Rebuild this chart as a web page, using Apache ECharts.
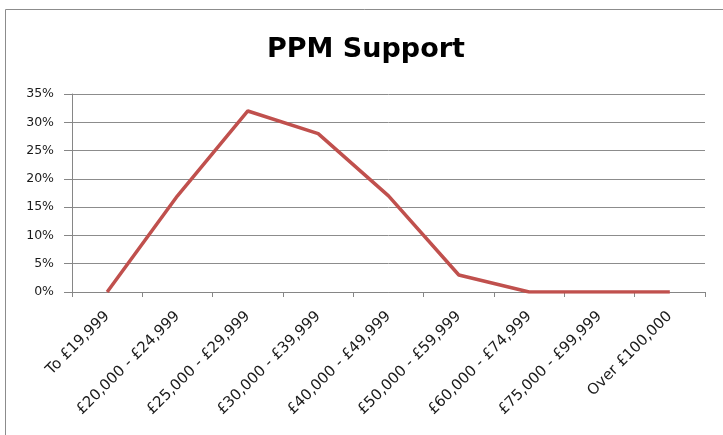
<!DOCTYPE html>
<html><head><meta charset="utf-8">
<script src="https://cdn.jsdelivr.net/npm/echarts@6/dist/echarts.min.js"></script>
<style>html,body{margin:0;padding:0;background:#fff}#c{width:723px;height:435px}</style>
</head><body><div id="c"></div>
<script>
var categories = ['To £19,999','£20,000 - £24,999','£25,000 - £29,999','£30,000 - £39,999','£40,000 - £49,999','£50,000 - £59,999','£60,000 - £74,999','£75,000 - £99,999','Over £100,000'];
var values = [0, 17, 32, 28, 17, 3, 0, 0, 0];
var yTicks = [0, 5, 10, 15, 20, 25, 30, 35];
var chart = echarts.init(document.getElementById('c'), null, {renderer:'canvas'});
chart.setOption({
  animation:false,
  backgroundColor:'#fff',
  title:{text:'PPM Support', left:262, top:31, padding:5, textStyle:{fontFamily:'DejaVu Sans', fontWeight:'bold', fontSize:27, color:'#000'}},
  graphic:[{type:'rect', shape:{x:5.5,y:9.5,width:800,height:500}, style:{fill:'none', stroke:'#8c8c8c', lineWidth:1}, silent:true}],
  grid:{left:72, right:18, top:94, bottom:143},
  xAxis:{type:'category', data:categories, boundaryGap:true,
    axisLine:{lineStyle:{color:'#868686'}},
    axisTick:{show:true, length:5, lineStyle:{color:'#868686'}},
    axisLabel:{rotate:45, interval:0, margin:22, fontFamily:'DejaVu Sans', fontSize:15, color:'#1a1a1a'}},
  yAxis:{type:'value', min:0, max:35, interval:5,
    axisLine:{show:true, lineStyle:{color:'#868686'}},
    axisTick:{show:true, length:8, lineStyle:{color:'#868686'}},
    splitLine:{lineStyle:{color:'#8c8c8c'}},
    axisLabel:{formatter:function(v){return yTicks.indexOf(v)>=0? v+'%':'';}, margin:18, fontFamily:'DejaVu Sans', fontSize:12.5, color:'#1a1a1a'}},
  series:[{type:'line', data:values, symbol:'none', lineStyle:{color:'#c0504d', width:3.5}}]
});
</script></body></html>
